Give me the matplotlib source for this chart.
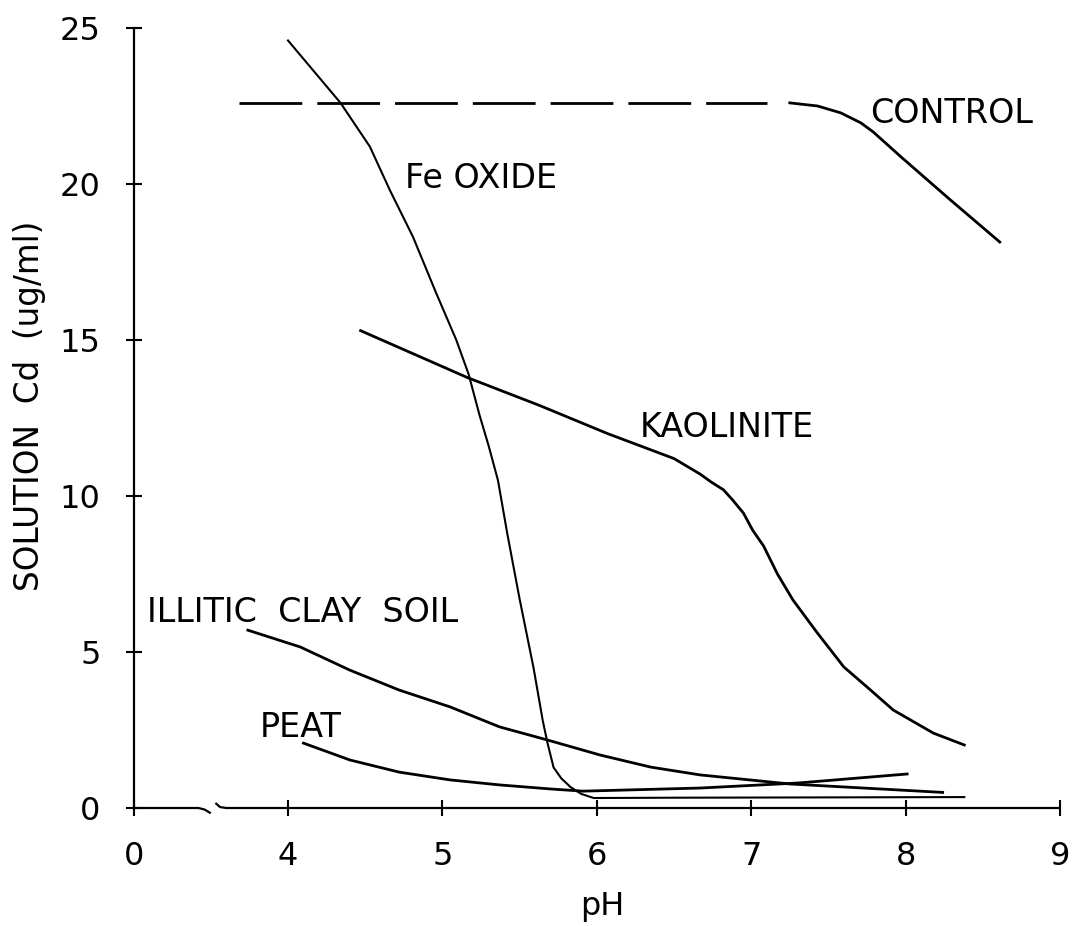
import matplotlib
matplotlib.use('Agg')
import matplotlib.pyplot as plt
import numpy as np

# pH values are real pH; the plot shifts them by 3 because of the axis break
PH_SHIFT = 3.0

control_dash_ph = [3.68, 7.10]
control_dash_cd = [22.6, 22.6]
control_ph = [7.25, 7.43, 7.58, 7.71, 7.79, 7.97, 8.29, 8.61]
control_cd = [22.6, 22.5, 22.28, 21.96, 21.67, 20.87, 19.49, 18.14]

fe_ph = [4.00, 4.34, 4.53, 4.66, 4.81, 4.96, 5.09, 5.17, 5.24, 5.30, 5.36, 5.42, 5.50,
         5.59, 5.65, 5.68, 5.72, 5.77, 5.83, 5.90, 5.98, 6.5, 7.5, 8.38]
fe_cd = [24.6, 22.6, 21.2, 19.8, 18.3, 16.5, 15.0, 13.9, 12.6, 11.6, 10.5, 8.8, 6.7,
         4.5, 2.8, 2.1, 1.3, 0.95, 0.67, 0.45, 0.32, 0.33, 0.34, 0.35]

kao_ph = [4.47, 5.16, 5.63, 6.07, 6.50, 6.67, 6.74, 6.82, 6.88, 6.95, 7.01, 7.08, 7.17,
          7.27, 7.43, 7.60, 7.75, 7.92, 8.18, 8.38]
kao_cd = [15.3, 13.8, 12.9, 12.0, 11.2, 10.7, 10.45, 10.2, 9.87, 9.45, 8.9, 8.4, 7.5,
          6.67, 5.6, 4.52, 3.88, 3.14, 2.4, 2.02]

ill_ph = [3.74, 4.08, 4.40, 4.72, 5.05, 5.37, 5.68, 6.02, 6.35, 6.67, 7.25, 8.24]
ill_cd = [5.7, 5.16, 4.42, 3.78, 3.24, 2.6, 2.18, 1.70, 1.31, 1.06, 0.77, 0.5]

peat_ph = [4.10, 4.40, 4.72, 5.05, 5.37, 5.70, 5.91, 6.67, 7.30, 8.01]
peat_cd = [2.08, 1.54, 1.15, 0.90, 0.74, 0.61, 0.54, 0.64, 0.80, 1.09]

tick_pos = [0, 1, 2, 3, 4, 5, 6]
tick_labels = ['0', '4', '5', '6', '7', '8', '9']
y_ticks = [0, 5, 10, 15, 20, 25]

labels = [
    ('CONTROL', 7.77, 21.96),
    ('Fe OXIDE', 4.757, 19.87),
    ('KAOLINITE', 6.28, 11.89),
    ('ILLITIC  CLAY  SOIL', 3.09, 5.96),
    ('PEAT', 3.82, 2.28),
]

plt.rcParams['font.family'] = ['DejaVu Sans']
FS = 24

fig = plt.figure(figsize=(10.72, 9.26), dpi=100)
W, H = 1072, 926
x0, x1 = 133.6, 1060
y0, y1 = 808, 28
ax = fig.add_axes([x0 / W, 1 - y0 / H, (x1 - x0) / W, (y0 - y1) / H])
ax.set_xlim(0, 6)
ax.set_ylim(0, 25)


def sh(v):
    return np.asarray(v) - PH_SHIFT


lw = 2.0
ax.plot(sh(control_dash_ph), control_dash_cd, color='black', lw=lw,
        linestyle=(0, (22.6, 5.4)))
ax.plot(sh(control_ph), control_cd, color='black', lw=lw)
ax.plot(sh(fe_ph), fe_cd, color='black', lw=1.5)
ax.plot(sh(kao_ph), kao_cd, color='black', lw=lw)
ax.plot(sh(ill_ph), ill_cd, color='black', lw=lw)
ax.plot(sh(peat_ph), peat_cd, color='black', lw=lw)

for txt, px, py in labels:
    ax.text(px - PH_SHIFT, py, txt, fontsize=FS, ha='left', va='baseline')

# axes with a break on the pH axis
for s in ['top', 'right', 'bottom']:
    ax.spines[s].set_visible(False)
ax.spines['left'].set_linewidth(1.6)
ax.plot([0, 0.42, 0.46, 0.5], [0, 0, -0.05, -0.17], color='black', lw=1.6,
        clip_on=False, solid_capstyle='butt')
ax.plot([0.53, 0.56, 0.6, 6], [0.16, 0.03, 0, 0], color='black', lw=1.6,
        clip_on=False, solid_capstyle='butt')

ax.set_xticks(tick_pos)
ax.set_xticklabels(tick_labels)
ax.set_yticks(y_ticks)
ax.tick_params(axis='both', direction='inout', length=11.5, width=1.5,
               labelsize=23, pad=18)

fig.text(30 / W, 1 - 406 / H, 'SOLUTION  Cd  (ug/ml)', rotation=90,
         ha='center', va='center', fontsize=23.5)
fig.text(602 / W, 1 - 906 / H, 'pH', ha='center', va='center', fontsize=23)

fig.savefig('out.png', dpi=100)
